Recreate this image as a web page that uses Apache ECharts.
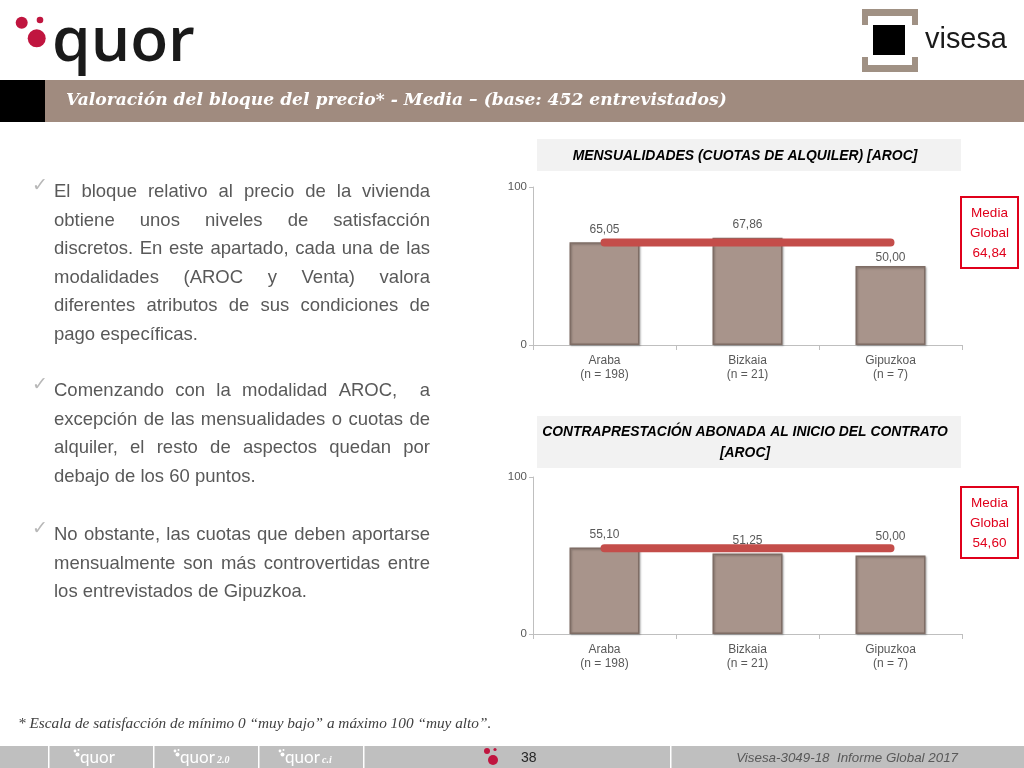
<!DOCTYPE html>
<html><head><meta charset="utf-8">
<script src="https://cdn.jsdelivr.net/npm/echarts@6/dist/echarts.min.js"></script>
<style>html,body{margin:0;padding:0;background:#fff}#c{width:1024px;height:768px}</style>
</head><body><div id="c"></div>
<script>
// ---------- data ----------
const categories = ['Araba\n(n = 198)', 'Bizkaia\n(n = 21)', 'Gipuzkoa\n(n = 7)'];
const cuotasValues = [65.05, 67.86, 50.00];
const contraValues = [55.10, 51.25, 50.00];
const mediaGlobal = [64.84, 54.60];
const yMin = 0, yMax = 100;
const chartTitle1 = 'MENSUALIDADES (CUOTAS DE ALQUILER) [AROC]';
const chartTitle2a = 'CONTRAPRESTACIÓN ABONADA AL INICIO DEL CONTRATO';
const chartTitle2b = '[AROC]';
const slideTitle = 'Valoración del bloque del precio* - Media – (base: 452 entrevistados)';
const footnote = '* Escala de satisfacción de mínimo 0 “muy bajo” a máximo 100 “muy alto”.';
const footerRight = 'Visesa-3049-18  Informe Global 2017';
const pageNumber = '38';
const para1 = ['El bloque relativo al precio de la vivienda', 'obtiene unos niveles de satisfacción', 'discretos. En este apartado, cada una de las', 'modalidades (AROC y Venta) valora', 'diferentes atributos de sus condiciones de', 'pago específicas.'];
const para2 = ['Comenzando con la modalidad AROC,  a', 'excepción de las mensualidades o cuotas de', 'alquiler, el resto de aspectos quedan por', 'debajo de los 60 puntos.'];
const para3 = ['No obstante, las cuotas que deben aportarse', 'mensualmente son más controvertidas entre', 'los entrevistados de Gipuzkoa.'];

// ---------- helpers ----------
const mctx = document.createElement('canvas').getContext('2d');
function measure(text, size, family, weight, style) {
  mctx.font = (style || 'normal') + ' ' + (weight || 'normal') + ' ' + size + 'px ' + family;
  return mctx.measureText(text).width;
}
function fitSize(text, target, family, weight, style) {
  const w = measure(text, 100, family, weight, style);
  return 100 * target / w;
}
const fmt = v => v.toFixed(2).replace('.', ',');
function txt(text, x, y, o) {
  o = o || {};
  return { type: 'text', z: o.z || 10, silent: true, style: {
    text: text, x: x, y: y, fill: o.fill || '#595959',
    fontSize: o.size || 12, fontFamily: o.family || 'Liberation Sans',
    fontWeight: o.weight || 'normal', fontStyle: o.style || 'normal',
    align: o.align || 'left', verticalAlign: o.va || 'middle'
  }};
}

const bodyFont = 'Liberation Sans', bodySize = 18.5, bodyColor = '#595959';
const X0 = 54, X1 = 430, LH = 28.6;
function paragraph(lines, yStart) {
  const els = [];
  lines.forEach((line, i) => {
    const y = yStart + i * LH;
    if (i === lines.length - 1) {
      els.push(txt(line, X0, y, { size: bodySize, family: bodyFont, fill: bodyColor }));
      return;
    }
    const words = line.split(' ');
    const widths = words.map(w => w ? measure(w, bodySize, bodyFont) : 0);
    const total = widths.reduce((a, b) => a + b, 0);
    const gap = (X1 - X0 - total) / (words.length - 1);
    let x = X0;
    words.forEach((w, k) => {
      if (w) els.push(txt(w, x, y, { size: bodySize, family: bodyFont, fill: bodyColor }));
      x += widths[k] + gap;
    });
  });
  return els;
}

const graphic = [];
// header logos
const red = '#c0153f';
graphic.push({ type: 'circle', shape: { cx: 21.7, cy: 22.7, r: 6 }, style: { fill: red } });
graphic.push({ type: 'circle', shape: { cx: 40, cy: 20, r: 3.3 }, style: { fill: red } });
graphic.push({ type: 'circle', shape: { cx: 36.7, cy: 38.3, r: 9 }, style: { fill: red } });
const qSize = fitSize('quor', 143, 'Open Sans', '600');
graphic.push(txt('quor', 52, 43, { size: qSize, family: 'Open Sans', weight: '600', fill: '#1a1a1a' }));
const vb = '#a09184';
[[862, 9, 56, 7], [862, 9, 6, 16], [912, 9, 6, 16], [862, 65, 56, 7], [862, 57, 6, 15], [912, 57, 6, 15]].forEach(r =>
  graphic.push({ type: 'rect', shape: { x: r[0], y: r[1], width: r[2], height: r[3] }, style: { fill: vb } }));
graphic.push({ type: 'rect', shape: { x: 873, y: 25, width: 32, height: 30 }, style: { fill: '#000' } });
const vSize = fitSize('visesa', 82, 'Liberation Sans');
graphic.push(txt('visesa', 925, 40, { size: vSize, fill: '#1a1a1a' }));

// title bar
graphic.push({ type: 'rect', shape: { x: 0, y: 80, width: 1024, height: 42 }, style: { fill: '#a08b7f' } });
graphic.push({ type: 'rect', shape: { x: 0, y: 80, width: 45, height: 42 }, style: { fill: '#000' } });
graphic.push(txt(slideTitle, 66, 101, { size: fitSize(slideTitle, 661, 'DejaVu Serif', 'bold', 'italic'), family: 'DejaVu Serif', weight: 'bold', style: 'italic', fill: '#ffffff' }));

// body text
[[para1, 192], [para2, 391], [para3, 535]].forEach(p => {
  graphic.push(txt('✓', 32, p[1] - 6, { size: 19, family: 'DejaVu Sans', fill: '#b8b8b8' }));
  paragraph(p[0], p[1]).forEach(e => graphic.push(e));
});

// chart title boxes
graphic.push({ type: 'rect', shape: { x: 537, y: 139, width: 424, height: 32 }, style: { fill: '#f2f2f2' } });
graphic.push(txt(chartTitle1, 745, 156, { size: fitSize(chartTitle1, 345, 'Liberation Sans', 'bold', 'italic'), weight: 'bold', style: 'italic', fill: '#000', align: 'center' }));
graphic.push({ type: 'rect', shape: { x: 537, y: 416, width: 424, height: 52 }, style: { fill: '#f2f2f2' } });
const t2s = fitSize(chartTitle2a, 406, 'Liberation Sans', 'bold', 'italic');
graphic.push(txt(chartTitle2a, 745, 432, { size: t2s, weight: 'bold', style: 'italic', fill: '#000', align: 'center' }));
graphic.push(txt(chartTitle2b, 745, 453, { size: t2s, weight: 'bold', style: 'italic', fill: '#000', align: 'center' }));

// media global boxes
[[197, mediaGlobal[0]], [487, mediaGlobal[1]]].forEach(b => {
  graphic.push({ type: 'rect', shape: { x: 961, y: b[0], width: 57, height: 71 }, style: { fill: '#fff', stroke: '#e0001b', lineWidth: 2 } });
  const c = '#e0001b';
  graphic.push(txt('Media', 989.5, b[0] + 16.5, { size: 13.5, fill: c, align: 'center' }));
  graphic.push(txt('Global', 989.5, b[0] + 36.5, { size: 13.5, fill: c, align: 'center' }));
  graphic.push(txt(fmt(b[1]), 989.5, b[0] + 56, { size: 13.5, fill: c, align: 'center' }));
});

// footnote
graphic.push(txt(footnote, 18, 724, { size: fitSize(footnote, 474, 'Liberation Serif', 'normal', 'italic'), family: 'Liberation Serif', style: 'italic', fill: '#404040' }));

// footer
graphic.push({ type: 'rect', shape: { x: 0, y: 746, width: 1024, height: 22 }, style: { fill: '#bfbfbf' } });
[48, 153, 258, 363, 670].forEach(x => graphic.push({ type: 'rect', shape: { x: x, y: 746, width: 1.5, height: 22 }, style: { fill: '#ffffff' } }));
[[80, ''], [180, '2.0'], [285, 'c.i']].forEach(f => {
  const x = f[0];
  graphic.push({ type: 'circle', shape: { cx: x - 5, cy: 751, r: 1.4 }, style: { fill: '#fff' } });
  graphic.push({ type: 'circle', shape: { cx: x - 1.5, cy: 750, r: 1 }, style: { fill: '#fff' } });
  graphic.push({ type: 'circle', shape: { cx: x - 2.5, cy: 754.5, r: 2 }, style: { fill: '#fff' } });
  graphic.push(txt('quor', x, 763 - 0.3 * 17, { size: 17, family: 'Lato', fill: '#fff' }));
  if (f[1]) graphic.push(txt(f[1], x + 37, 763 - 3, { size: 10, family: 'Liberation Serif', style: 'italic', weight: 'bold', fill: '#fff' }));
});
graphic.push({ type: 'circle', shape: { cx: 487, cy: 751, r: 3 }, style: { fill: red } });
graphic.push({ type: 'circle', shape: { cx: 495, cy: 749.5, r: 1.6 }, style: { fill: red } });
graphic.push({ type: 'circle', shape: { cx: 493, cy: 760, r: 5 }, style: { fill: red } });
graphic.push(txt(pageNumber, 521, 758, { size: 14, fill: '#262626' }));
graphic.push(txt(footerRight, 958, 758, { size: fitSize(footerRight, 222, 'Liberation Sans', 'normal', 'italic'), style: 'italic', fill: '#595959', align: 'right' }));

// ---------- chart ----------
const barStyle = { color: '#a8948b', borderColor: '#7f6d65', borderWidth: 1.5, shadowColor: 'rgba(0,0,0,0.25)', shadowBlur: 2, shadowOffsetX: 1, shadowOffsetY: 1 };
const labelOffsets = [[[0, 0], [0, 0], [0, 5]], [[0, 0], [0, 0], [0, -6]]];
function barSeries(idx, values) {
  return {
    type: 'bar', xAxisIndex: idx, yAxisIndex: idx, barWidth: 70, z: 2,
    itemStyle: barStyle,
    label: { show: true, position: 'top', distance: 7, fontSize: 12, color: '#595959', fontFamily: 'Liberation Sans', formatter: p => fmt(p.value) },
    data: values.map((v, i) => ({ value: v, label: { offset: labelOffsets[idx][i] } }))
  };
}
function lineSeries(idx, v) {
  return {
    type: 'line', xAxisIndex: idx, yAxisIndex: idx, symbol: 'none', z: 5, silent: true,
    lineStyle: { width: 8, color: '#c44d4a', cap: 'round' },
    data: categories.map(() => v)
  };
}
function xAxis(idx) {
  return {
    type: 'category', gridIndex: idx, data: categories,
    axisLine: { lineStyle: { color: '#bfbfbf', width: 1 } },
    axisTick: { show: true, length: 5, lineStyle: { color: '#bfbfbf' } },
    axisLabel: { fontSize: 12, color: '#595959', lineHeight: 13.5, margin: 9, fontFamily: 'Liberation Sans' }
  };
}
function yAxis(idx) {
  return {
    type: 'value', gridIndex: idx, min: yMin, max: yMax, interval: 100,
    axisLine: { show: true, lineStyle: { color: '#bfbfbf', width: 1 } },
    axisTick: { show: true, length: 4, lineStyle: { color: '#bfbfbf' } },
    splitLine: { show: false },
    axisLabel: { fontSize: 11.5, color: '#595959', margin: 6, fontFamily: 'Liberation Sans' }
  };
}

const chart = echarts.init(document.getElementById('c'), null, { renderer: 'canvas' });
chart.setOption({
  animation: false,
  backgroundColor: '#ffffff',
  grid: [
    { left: 533, right: 62, top: 187, bottom: 423 },
    { left: 533, right: 62, top: 477, bottom: 134 }
  ],
  xAxis: [xAxis(0), xAxis(1)],
  yAxis: [yAxis(0), yAxis(1)],
  series: [barSeries(0, cuotasValues), lineSeries(0, mediaGlobal[0]), barSeries(1, contraValues), lineSeries(1, mediaGlobal[1])],
  graphic: { elements: graphic }
});
</script></body></html>
